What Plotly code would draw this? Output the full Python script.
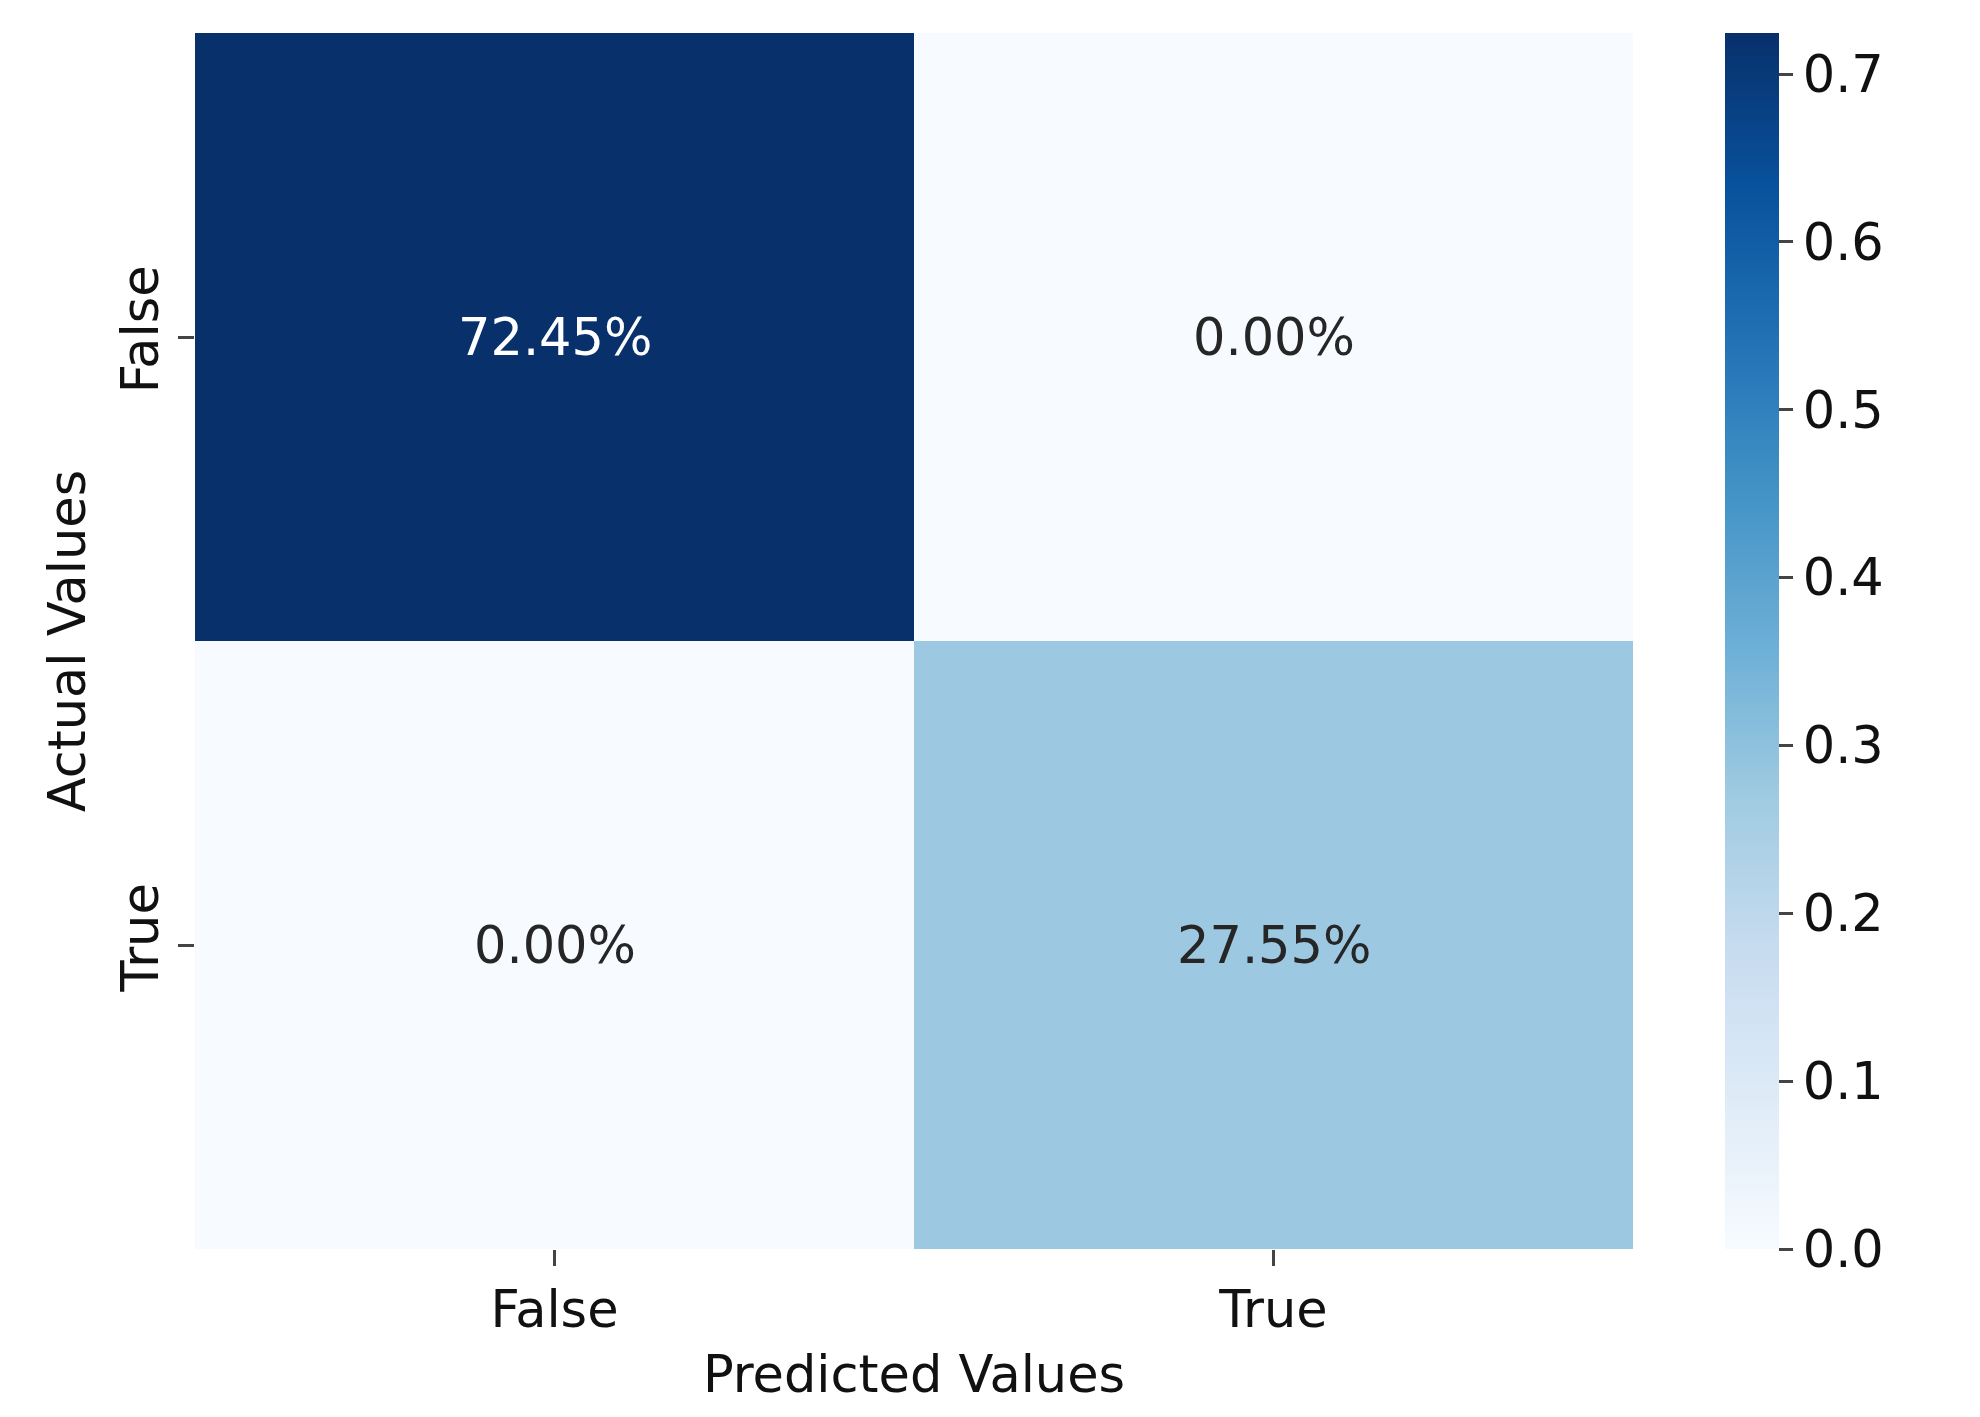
import plotly.graph_objects as go

pred_labels = ["False", "True"]
actual_labels = ["False", "True"]
values = [[0.7245, 0.0], [0.0, 0.2755]]
cell_text = [["72.45%", "0.00%"], ["0.00%", "27.55%"]]
cbar_ticks = [0.0, 0.1, 0.2, 0.3, 0.4, 0.5, 0.6, 0.7]

F = "DejaVu Sans"
FS = 51
fig = go.Figure(go.Heatmap(
    z=values, x=pred_labels, y=actual_labels, colorscale="Blues", zmin=0, zmax=max(max(r) for r in values),
    colorbar=dict(x=1.0, xanchor="left", xpad=92, thickness=54, len=1, y=0.5, yanchor="middle", ypad=0,
                  outlinewidth=0, tickvals=cbar_ticks, ticks="outside", ticklen=14, tickwidth=3,
                  tickformat=".1f", tickfont=dict(family=F, size=FS, color="#111"))))
for i, a in enumerate(actual_labels):
    for j, p in enumerate(pred_labels):
        v = values[i][j]
        fig.add_annotation(x=p, y=a, text=cell_text[i][j], showarrow=False,
                           font=dict(family=F, size=FS, color="white" if v > 0.4 else "#262626"))
fig.update_xaxes(title=dict(text="Predicted Values", font=dict(family=F, size=FS, color="#111"), standoff=18),
                 ticks="outside", ticklen=16, tickwidth=3, tickfont=dict(family=F, size=FS, color="#111"),
                 showline=False, showgrid=False)
fig.update_yaxes(title=dict(text="Actual Values", font=dict(family=F, size=FS, color="#111"), standoff=8),
                 autorange="reversed", ticks="outside", ticklen=16, tickwidth=3, tickangle=-90,
                 tickfont=dict(family=F, size=FS, color="#111"), showgrid=False)
fig.update_layout(width=1980, height=1417, paper_bgcolor="white", plot_bgcolor="white",
                  margin=dict(l=187, r=297, t=25, b=176))
fig.write_html("out.html")
